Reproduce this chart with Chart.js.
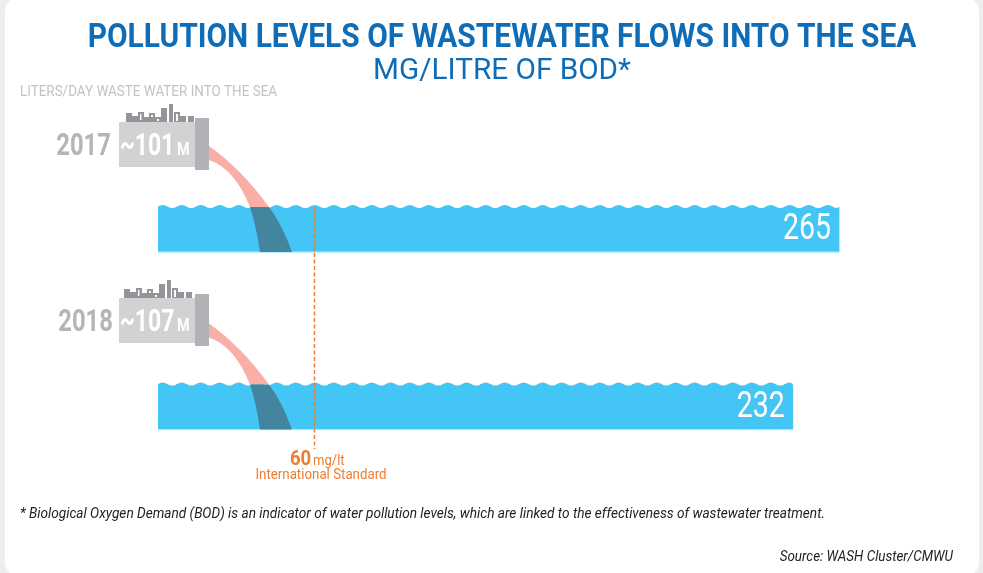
<!DOCTYPE html>
<html>
<head>
<meta charset="utf-8">
<script src="https://cdn.jsdelivr.net/npm/chart.js@4"></script>
<style>
    html, body { margin: 0; padding: 0; background: #eeeeee; overflow: hidden; }
    #panel { position: absolute; left: 5px; top: -3px; width: 974px; height: 579px; background: #fff; border-radius: 14px; }
    #wrap { position: absolute; left: 0; top: 0; width: 983px; height: 573px; }
</style>
</head>
<body>
<div id="panel"></div>
<div id="wrap"><canvas id="myChart"></canvas></div>
<script>
const years = ['2017', '2018'];
const bodValues = [265, 232];        // printed on the bars
const barLengths = [265, 247];       // the source draws the 2018 bar longer than its printed 232
const flowVolumes = ['~101', '~107'];
const standardValue = 60;

const titleText = 'POLLUTION LEVELS OF WASTEWATER FLOWS INTO THE SEA';
const subtitleText = 'MG/LITRE OF BOD*';
const volumeHeading = 'LITERS/DAY WASTE WATER INTO THE SEA';
const footnoteText = '* Biological Oxygen Demand (BOD) is an indicator of water pollution levels, which are linked to the effectiveness of wastewater treatment.';
const sourceText = 'Source: WASH Cluster/CMWU';

const BLUE = '#43c6f5';
const ORANGE = '#ee7d31';

// Roboto Condensed is not installed, so squeeze Roboto horizontally
function label(ctx, text, x, y, font, color, align, squeeze) {
    ctx.save();
    ctx.font = font;
    ctx.fillStyle = color;
    ctx.textAlign = align || 'left';
    ctx.textBaseline = 'alphabetic';
    ctx.translate(x, y);
    ctx.scale(squeeze || 0.82, 1);
    ctx.fillText(text, 0, 0);
    ctx.restore();
}

// building blocks above the plant: x offset, width, height
const skyline = [[0, 6, 9], [6, 6, 6], [12, 6, 10], [18, 5, 5], [23, 6, 9], [29, 6, 5], [35, 6, 14], [43, 4, 18], [48, 6, 10], [54, 6, 6], [62, 6, 6]];

const infographic = {
    id: 'infographic',
    beforeDatasetsDraw(chart) {
        const { ctx } = chart;
        label(ctx, titleText, 502, 47, '700 33px Roboto', '#0f6cb6', 'center', 0.907);
        label(ctx, subtitleText, 502, 79, '400 30px Roboto', '#0f6cb6', 'center', 0.99);
        label(ctx, volumeHeading, 20, 96, '400 15px Roboto', '#c2c3c5', 'left', 0.896);
        label(ctx, footnoteText, 20, 518, 'italic 400 14.5px Roboto', '#222222', 'left', 0.94);
        label(ctx, sourceText, 953, 561, 'italic 400 14.5px Roboto', '#222222', 'right', 0.926);
    },
    afterDatasetsDraw(chart) {
        const { ctx } = chart;
        const xs = chart.scales.x;
        const ys = chart.scales.y;
        const x0 = xs.getPixelForValue(0);

        years.forEach((year, i) => {
            const cy = ys.getPixelForValue(i);
            const top = cy - 22.5;
            const bottom = cy + 22.5;
            const right = xs.getPixelForValue(barLengths[i]);
            const dy = cy - 229.5;
            const py = dy - i * 1.5;     // plant sits a touch higher in the second row
            const cityShift = i * -2;

            // wavy water surface, white troughs cut into the top of the bar
            ctx.save();
            ctx.fillStyle = '#ffffff';
            ctx.fillRect(x0, top - 1, right - x0, 3);
            ctx.fillStyle = BLUE;
            ctx.beginPath();
            ctx.moveTo(x0, top + 4);
            let wx = x0;
            const mid = top - 0.5;
            ctx.lineTo(wx, mid);
            while (wx < right) {
                const nx = Math.min(wx + 9.5, right);
                ctx.quadraticCurveTo(wx + 4.75, mid - 3, nx, mid);
                const nx2 = Math.min(nx + 9.5, right);
                ctx.quadraticCurveTo(nx + 4.75, mid + 3, nx2, mid);
                wx = nx2;
            }
            ctx.lineTo(right, top + 4);
            ctx.closePath();
            ctx.fill();

            // light line along the sea bed
            ctx.fillStyle = '#b5e8fb';
            ctx.fillRect(x0, bottom - 0.5, right - x0, 1.2);

            // sewage plume in the air
            ctx.fillStyle = '#f9aea7';
            ctx.beginPath();
            ctx.moveTo(209, 146 + dy);
            ctx.quadraticCurveTo(241, 168.5 + dy, 269, top);
            ctx.lineTo(250, top);
            ctx.quadraticCurveTo(234.5, 168.5 + dy, 209, 160 + dy);
            ctx.closePath();
            ctx.fill();

            // plume under the water
            ctx.fillStyle = '#43859f';
            ctx.beginPath();
            ctx.moveTo(250, top);
            ctx.quadraticCurveTo(256, 225 + dy, 260, bottom);
            ctx.lineTo(292, bottom);
            ctx.quadraticCurveTo(282, 224 + dy, 269, top);
            ctx.closePath();
            ctx.fill();

            // plant body, flange and buildings
            ctx.fillStyle = '#d1d2d4';
            ctx.fillRect(119, 122 + py, 76, 45);
            ctx.fillStyle = '#b1b2b5';
            ctx.fillRect(195, 118 + py, 14, 52);
            ctx.fillStyle = '#939598';
            skyline.forEach(([bx, w, h]) => {
                ctx.fillRect(126 + cityShift + bx, 122 + py - h, w, h);
            });
            ctx.fillStyle = '#ffffff';
            ctx.fillRect(126 + cityShift + 14, 122 + py - 8, 1.4, 6);
            ctx.fillRect(126 + cityShift + 25, 122 + py - 7, 2, 2);
            ctx.fillRect(126 + cityShift + 31, 122 + py - 3, 2, 2);
            ctx.fillRect(126 + cityShift + 50, 122 + py - 8, 2, 7);
            ctx.restore();

            // row labels
            label(ctx, year, 111 + i * 2, 155 + py, '700 31px Roboto', '#b4b5b8', 'right', 0.77);
            label(ctx, flowVolumes[i], 120, 155 + py, '700 31px Roboto', '#ffffff', 'left', 0.74);
            label(ctx, 'M', 177, 155 + py, '700 18px Roboto', '#ffffff', 'left', 0.8);
            label(ctx, String(bodValues[i]), right - 8, cy + 9.5 + i * 0.5, '400 36px Roboto', '#ffffff', 'right', 0.79);
        });

        // international standard marker, nudged onto the dashed line in the source
        const sx = Math.round(xs.getPixelForValue(standardValue) + 1.5) + 0.5;
        ctx.save();
        ctx.strokeStyle = ORANGE;
        ctx.lineWidth = 1.5;
        ctx.setLineDash([4, 2.5]);
        ctx.beginPath();
        ctx.moveTo(sx, ys.getPixelForValue(0) - 22);
        ctx.lineTo(sx, 449);
        ctx.stroke();
        ctx.restore();
        label(ctx, String(standardValue), 290, 465, '700 21px Roboto', ORANGE, 'left', 0.88);
        label(ctx, 'mg/lt', 313, 465, '400 14.5px Roboto', ORANGE, 'left', 0.9);
        label(ctx, 'International Standard', 321, 479, '400 14.5px Roboto', ORANGE, 'center', 0.917);
    }
};

const ctx = document.getElementById('myChart');
new Chart(ctx, {
    type: 'bar',
    data: {
        labels: years,
        datasets: [{
            data: barLengths,
            backgroundColor: BLUE,
            barThickness: 45
        }]
    },
    options: {
        indexAxis: 'y',
        responsive: true,
        maintainAspectRatio: false,
        animation: false,
        layout: {
            padding: { left: 158, right: 54, top: 140.75, bottom: 77.25 }
        },
        scales: {
            x: { display: false, min: 0, max: 300 },
            y: { display: false }
        },
        plugins: {
            legend: { display: false },
            title: { display: false },
            tooltip: { enabled: false }
        }
    },
    plugins: [infographic]
});
</script>
</body>
</html>
